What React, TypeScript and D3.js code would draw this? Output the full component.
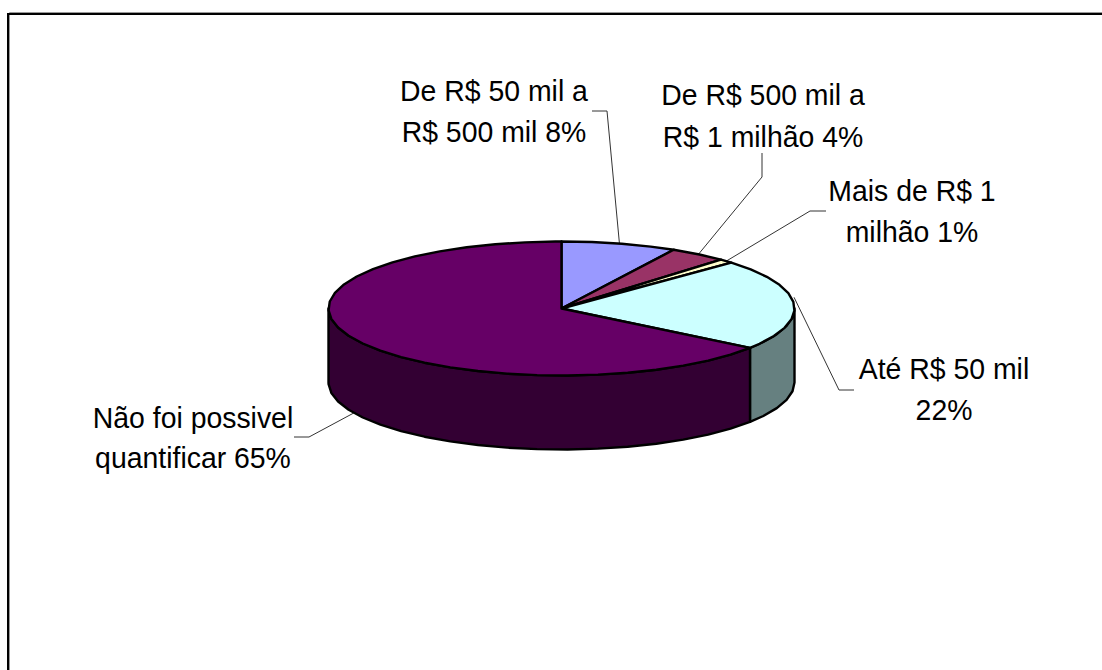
import React from "react";
import * as d3 from "d3";

const labels = [
  ["De R$ 50 mil a", "R$ 500 mil 8%"],
  ["De R$ 500 mil a", "R$ 1 milhão 4%"],
  ["Mais de R$ 1", "milhão 1%"],
  ["Até R$ 50 mil", "22%"],
  ["Não foi possivel", "quantificar 65%"],
];
const values = [8, 4, 1, 22, 65];
const colors = ["#9999ff", "#993366", "#ffffcc", "#ccffff", "#660066"];

// where each label sits and the elbow of its leader line
const labelLayout = [
  { x: 494, y: [101, 142], elbow: [[592, 111], [607, 111]] },
  { x: 763, y: [105, 147], elbow: [[762, 153], [762, 177]] },
  { x: 912, y: [201, 242], elbow: [[826, 211], [810, 211]] },
  { x: 944, y: [379, 420], elbow: [[854, 390], [839, 390]], nudge: -7 },
  { x: 193, y: [428, 468], elbow: [[294, 437], [309, 437]] },
];

const width = 1102;
const height = 670;
const cx = 561.5;
const cy = 308.5;
const rx = 233;
const ry = 67;
const depth = 74;
const step = Math.PI / 24;

const xScale = d3.scaleLinear().domain([-1, 1]).range([cx - rx, cx + rx]);
const yScale = d3.scaleLinear().domain([-1, 1]).range([cy + ry, cy - ry]);

const rim = (a: number, drop = 0): [number, number] => [
  xScale(Math.sin(a)),
  yScale(Math.cos(a)) + drop,
];

const sweep = (a0: number, a1: number) => [...d3.range(a0, a1, step), a1];

const line = d3.line();

export default function App() {
  const slices = d3.pie<number>().sort(null)(values);

  const tops = slices.map((s) =>
    line([[cx, cy], ...sweep(s.startAngle, s.endAngle).map((a) => rim(a))] as any) + "Z"
  );

  // only the front half of the disc shows a wall
  const walls = slices.flatMap((s, i) => {
    const a0 = Math.max(s.startAngle, Math.PI / 2);
    const a1 = Math.min(s.endAngle, (3 * Math.PI) / 2);
    if (a0 >= a1) return [];
    const c = d3.rgb(colors[i]);
    const angles = sweep(a0, a1);
    const d =
      line([
        ...angles.map((a) => rim(a)),
        ...angles.slice().reverse().map((a) => rim(a, depth)),
      ] as any) + "Z";
    return [{ d, fill: d3.rgb(c.r / 2, c.g / 2, c.b / 2).formatHex() }];
  });

  const leaders = slices.map((s, i) => {
    const mid = (s.startAngle + s.endAngle) / 2;
    const l = labelLayout[i];
    const drop = mid > Math.PI / 2 + 0.2 ? depth : 0;
    const end = rim(mid, drop + (l.nudge ?? 0));
    return line([...l.elbow, end] as any)!;
  });

  return (
    <svg
      width={width}
      height={height}
      style={{ position: "absolute", left: 0, top: 0, background: "#fff" }}
      fontFamily="Liberation Sans, Arial, sans-serif"
    >
      <path d={`M9.5,${height}V12.5H${width}`} fill="none" stroke="#999" strokeWidth={1} />
      <path d={`M8,${height}V14H${width}`} fill="none" stroke="#000" strokeWidth={2} />

      {leaders.map((d, i) => (
        <path key={i} d={d} fill="none" stroke="#333" strokeWidth={1} />
      ))}

      {walls.map((w, i) => (
        <path key={i} d={w.d} fill={w.fill} stroke="#000" strokeWidth={2.4} strokeLinejoin="round" />
      ))}
      {tops.map((d, i) => (
        <path key={i} d={d} fill={colors[i]} stroke="#000" strokeWidth={2.4} strokeLinejoin="round" />
      ))}

      {/* the original's type is a little taller than Arial at this width */}
      {labels.map((rows, i) =>
        rows.map((t, j) => (
          <text
            key={t}
            transform={`translate(${labelLayout[i].x},${labelLayout[i].y[j]}) scale(0.947,1)`}
            textAnchor="middle"
            fontSize={30}
            fill="#000"
          >
            {t}
          </text>
        ))
      )}
    </svg>
  );
}
